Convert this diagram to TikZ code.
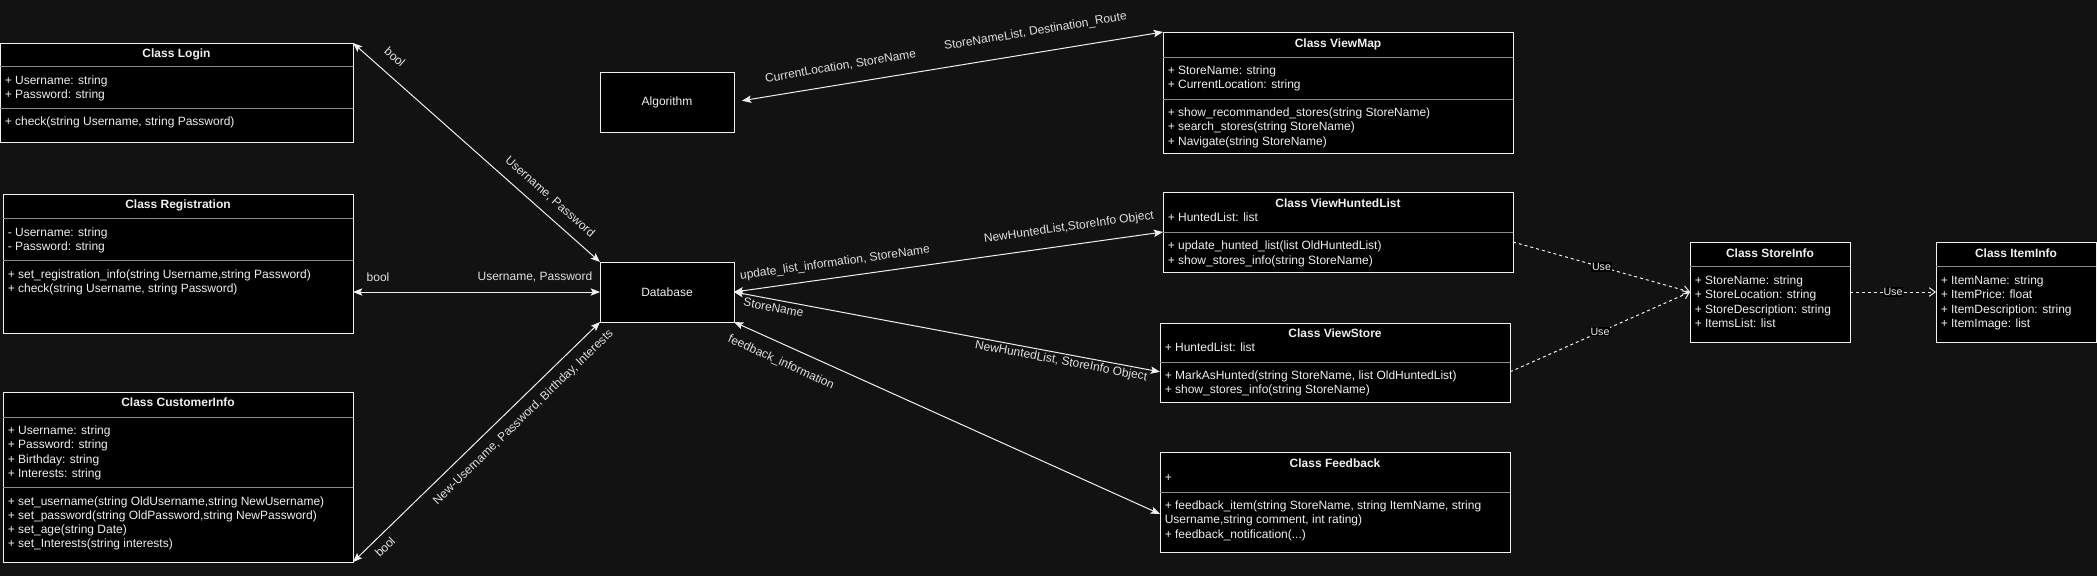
\documentclass[tikz,border=0pt]{standalone}
\usepackage{fontspec}
\setmainfont{Liberation Sans}
\usetikzlibrary{arrows.meta,calc}
\definecolor{bg}{HTML}{121212}
\definecolor{fg}{HTML}{F0F0F0}
\definecolor{sepc}{HTML}{8C8C8C}
\definecolor{lblc}{HTML}{E0E0E0}
\tikzset{
  classbox/.style={draw=fg, fill=black, line width=0.75pt, inner sep=0pt, outer sep=0pt, anchor=north west},
  member/.style={text=fg, font=\fontsize{9}{10.5}\selectfont, inner sep=0pt, anchor=base west},
  ctitle/.style={text=fg, font=\bfseries\fontsize{9}{10.5}\selectfont, inner sep=0pt, anchor=base},
  plaintxt/.style={text=fg, font=\fontsize{9}{10.5}\selectfont, inner sep=0pt},
  sepline/.style={draw=sepc, line width=0.75pt},
  conn/.style={draw=fg, line width=0.75pt, {Stealth[length=7pt,width=5.5pt,inset=1.5pt]}-{Stealth[length=7pt,width=5.5pt,inset=1.5pt]}},
  useconn/.style={draw=fg, line width=0.75pt, dash pattern=on 2.25pt off 2.25pt, -{Straight Barb[length=4.5pt,width=6.5pt]}},
  lbl/.style={text=lblc, font=\fontsize{9}{10.5}\selectfont, inner sep=0pt},
  uselbl/.style={text=fg, fill=black, font=\fontsize{8}{9.5}\selectfont, inner sep=0.6pt},
}
\newcommand{\mydots}{...}
\newcommand{\umlbox}[5]{\node[classbox, minimum width={(#4-#2)*0.75pt}, minimum height={(#5-#3)*0.75pt}] (#1) at (#2,#3) {};}
\newcommand{\members}[5]{\foreach \t [count=\i from 0] in {#5}{\node[member] (#1-\i) at (#2,{#3+#4*\i}) {\t};}}
\begin{document}
\begin{tikzpicture}[x=0.75pt,y=-0.75pt]
\useasboundingbox[fill=bg] (0,0) rectangle (2097,576);

% ---------- boxes ----------
\umlbox{login}{0}{43}{353}{142}
\umlbox{reg}{3}{194}{353}{333}
\umlbox{ci}{3}{392}{353}{562}
\umlbox{alg}{600}{72}{734}{132}
\umlbox{db}{600}{262}{734}{322}
\umlbox{vm}{1163}{32}{1513}{153}
\umlbox{vhl}{1163}{192}{1513}{272}
\umlbox{vs}{1160}{323}{1510}{402}
\umlbox{fb}{1160}{452}{1510}{552}
\umlbox{si}{1690}{242}{1850}{342}
\umlbox{ii}{1936}{242}{2096}{342}

% ---------- separators ----------
\draw[sepline] (0,66) -- (353,66);   \draw[sepline] (0,108) -- (353,108);
\draw[sepline] (3,218) -- (353,218); \draw[sepline] (3,260) -- (353,260);
\draw[sepline] (3,417) -- (353,417); \draw[sepline] (3,487) -- (353,487);
\draw[sepline] (1163,57) -- (1513,57); \draw[sepline] (1163,99) -- (1513,99);
\draw[sepline] (1163,232) -- (1513,232);
\draw[sepline] (1160,362) -- (1510,362);
\draw[sepline] (1160,492) -- (1510,492);
\draw[sepline] (1690,266) -- (1850,266);
\draw[sepline] (1936,266) -- (2096,266);

% ---------- Login ----------
\node[ctitle] (login-title) at (176.5,57) {Class Login};
\members{login-a}{4.5}{84}{14.2}{{+ Username: string},{+ Password: string}}
\members{login-m}{4.5}{125}{14.2}{{+ check(string Username, string Password)}}

% ---------- Registration ----------
\node[ctitle] (reg-title) at (178,208.5) {Class Registration};
\members{reg-a}{7.5}{236}{14.4}{{- Username: string},{- Password: string}}
\members{reg-m}{7.5}{278}{14.4}{{+ set\_registration\_info(string Username,string Password)},{+ check(string Username, string Password)}}

% ---------- CustomerInfo ----------
\node[ctitle] (ci-title) at (178,406.5) {Class CustomerInfo};
\members{ci-a}{7.5}{434}{14.5}{{+ Username: string},{+ Password: string},{+ Birthday: string},{+ Interests: string}}
\members{ci-m}{7.5}{505}{14.2}{{+ set\_username(string OldUsername,string NewUsername)},{+ set\_password(string OldPassword,string NewPassword)},{+ set\_age(string Date)},{+ set\_Interests(string interests)}}

% ---------- Algorithm / Database ----------
\node[plaintxt] (alg-text) at (alg.center) {Algorithm};
\node[plaintxt] (db-text) at (db.center) {Database};

% ---------- ViewMap ----------
\node[ctitle] (vm-title) at (1338,47.5) {Class ViewMap};
\members{vm-a}{1167.5}{74}{14.5}{{+ StoreName: string},{+ CurrentLocation: string}}
\members{vm-m}{1167.5}{116.5}{14.3}{{+ show\_recommanded\_stores(string StoreName)},{+ search\_stores(string StoreName)},{+ Navigate(string StoreName)}}

% ---------- ViewHuntedList ----------
\node[ctitle] (vhl-title) at (1338,207) {Class ViewHuntedList};
\members{vhl-a}{1167.5}{221}{14.4}{{+ HuntedList: list}}
\members{vhl-m}{1167.5}{249.5}{14.5}{{+ update\_hunted\_list(list OldHuntedList)},{+ show\_stores\_info(string StoreName)}}

% ---------- ViewStore ----------
\node[ctitle] (vs-title) at (1335,337) {Class ViewStore};
\members{vs-a}{1164.5}{351}{14.4}{{+ HuntedList: list}}
\members{vs-m}{1164.5}{379.5}{14.2}{{+ MarkAsHunted(string StoreName, list OldHuntedList)},{+ show\_stores\_info(string StoreName)}}

% ---------- Feedback ----------
\node[ctitle] (fb-title) at (1335,467) {Class Feedback};
\members{fb-a}{1164.5}{481}{14.4}{{+}}
\members{fb-m}{1164.5}{509.5}{14.3}{{+ feedback\_item(string StoreName, string ItemName, string},{Username,string comment, int rating)},{+ feedback\_notification(\mydots)}}

% ---------- StoreInfo ----------
\node[ctitle] (si-title) at (1770,257) {Class StoreInfo};
\members{si-a}{1694.5}{284}{14.5}{{+ StoreName: string},{+ StoreLocation: string},{+ StoreDescription: string},{+ ItemsList: list}}

% ---------- ItemInfo ----------
\node[ctitle] (ii-title) at (2016,257) {Class ItemInfo};
\members{ii-a}{1940.5}{284}{14.5}{{+ ItemName: string},{+ ItemPrice: float},{+ ItemDescription: string},{+ ItemImage: list}}

% ---------- connectors ----------
\draw[conn] (login.north east) -- (db.north west);
\draw[conn] (reg.east |- db.west) -- (db.west);
\draw[conn] (ci.south east) -- (db.south west);
\draw[conn, shorten <=6pt] (alg.east) -- (vm.north west);
\draw[conn] (db.east) -- (vhl.west);
\draw[conn] (db.east) -- ([yshift=-7pt]vs.west);
\draw[conn] (db.south east) -- ([yshift=-9pt]fb.west);

\draw[useconn] ([yshift=-7.5pt]vhl.east) -- (si.west) node[midway, uselbl] (use1) {Use};
\draw[useconn] ([yshift=-7pt]vs.east) -- (si.west) node[midway, uselbl] (use2) {Use};
\draw[useconn] (si.east) -- (ii.west) node[midway, uselbl] (use3) {Use};

% ---------- connector labels ----------
\node[lbl, rotate=-41.56] (l1) at (395,57) {bool};
\node[lbl, rotate=-41.56] (l2) at (550,197) {Username, Password};
\node[lbl] (l3) at (378,277) {bool};
\node[lbl] (l4) at (535,277) {Username, Password};
\node[lbl, rotate=44.18] (l5) at (523.5,417.5) {New-Username, Password, Birthday, Interests};
\node[lbl, rotate=44.18] (l6) at (385,547) {bool};
\node[lbl, rotate=9.42] (l7) at (840.5,66.5) {CurrentLocation, StoreName};
\node[lbl, rotate=9.42] (l8) at (1035.5,31.7) {StoreNameList, Destination\_Route};
\node[lbl, rotate=7.96] (l9) at (835,263) {update\_list\_information, StoreName};
\node[lbl, rotate=7.96] (l10) at (1069,227.5) {NewHuntedList,StoreInfo Object};
\node[lbl, rotate=-10.64] (l11) at (773.5,307.5) {StoreName};
\node[lbl, rotate=-10.64] (l12) at (1061,361.5) {NewHuntedList, StoreInfo Object};
\node[lbl, rotate=-24.26] (l13) at (781,362.5) {feedback\_information};
\end{tikzpicture}
\end{document}
